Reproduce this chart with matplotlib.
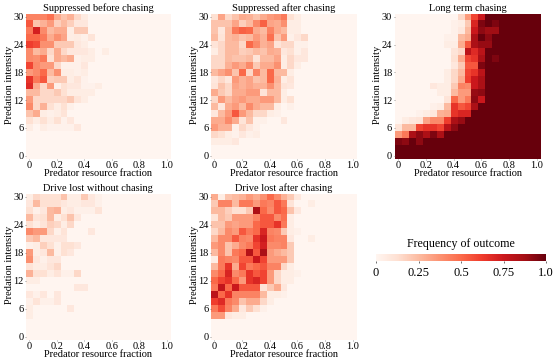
import numpy as np
import matplotlib.pyplot as plt
from matplotlib.cm import ScalarMappable
from matplotlib.colors import Normalize

plt.rcParams['font.family'] = ['Liberation Serif', 'DejaVu Serif']

# percent per cell, rows run top (30) to bottom (0), short rows are padded
before_rows = [
    [42, 42, 42, 48, 30, 22, 28, 15, 6],
    [55, 22, 28, 35, 18, 25, 18, 8, 8],
    [45, 72, 40, 25, 30, 30, 5, 20, 20],
    [50, 50, 45, 30, 38, 32, 5, 6, 3, 10],
    [62, 58, 38, 38, 20, 20, 20, 8, 5],
    [40, 25, 30, 15, 30, 15, 8, 8, 8, 5, 0, 5],
    [40, 38, 45, 12, 30, 25, 30, 3, 5, 5],
    [60, 40, 35, 35, 15, 3, 3, 3, 8],
    [35, 40, 50, 25, 38, 5, 5, 3, 5],
    [65, 45, 55, 18, 20, 20, 5, 10, 2],
    [68, 30, 15, 35, 3, 12, 8, 8, 2, 2, 5],
    [25, 25, 15, 15, 20, 12, 5, 5, 5, 5],
    [35, 15, 15, 15, 15, 15, 20, 10, 5],
    [40, 15, 28, 12, 5, 12, 3],
    [22, 30, 5, 3, 5, 10],
    [12, 5, 12, 5, 12, 2, 8],
    [5, 0, 5, 2, 2, 2, 2, 8],
]
after_rows = [
    [12, 32, 15, 22, 30, 28, 22, 30, 35, 38, 45, 12, 5],
    [22, 22, 22, 32, 18, 25, 40, 52, 32, 30, 38, 5, 5],
    [22, 8, 25, 45, 52, 50, 30, 25, 42, 30, 25, 5, 5],
    [25, 10, 25, 28, 22, 25, 35, 28, 48, 22, 35, 3, 8, 15],
    [10, 15, 25, 25, 15, 50, 40, 28, 32, 10, 15, 15, 3, 3],
    [5, 15, 25, 25, 18, 20, 25, 22, 30, 28, 8, 12, 3, 8],
    [15, 15, 25, 22, 22, 25, 10, 25, 25, 32, 5, 15, 8, 8],
    [15, 15, 28, 35, 30, 40, 20, 30, 30, 38, 5, 15, 5],
    [25, 32, 38, 22, 50, 15, 42, 25, 50, 25, 25, 5],
    [8, 15, 8, 35, 28, 32, 22, 25, 50, 28, 5, 10],
    [10, 22, 15, 32, 28, 32, 28, 28, 38, 25, 10, 8],
    [30, 20, 15, 30, 30, 35, 35, 10, 25, 25, 5],
    [15, 35, 25, 32, 35, 30, 30, 35, 35, 25, 5, 12],
    [25, 8, 30, 35, 25, 40, 30, 25, 25, 5, 0, 3],
    [8, 25, 35, 55, 35, 25, 15, 15, 5, 3],
    [30, 30, 40, 30, 10, 22, 3, 3, 0, 0, 8],
    [35, 28, 28, 3, 15, 8, 3],
    [15, 12, 5, 2, 8, 3, 5],
    [5, 5, 5, 8],
]
# long term chasing is saturated on the right, padded with 100
long_rows = [
    [0, 0, 0, 0, 0, 0, 0, 0, 0, 15, 35, 60, 75],
    [0, 0, 0, 0, 0, 0, 0, 0, 3, 5, 20, 70, 95, 100, 95],
    [0, 0, 0, 0, 0, 0, 0, 0, 3, 8, 25, 75, 92, 88, 88],
    [0, 0, 0, 0, 0, 0, 0, 3, 3, 25, 30, 85, 100, 92],
    [0, 0, 0, 0, 0, 0, 0, 5, 5, 30, 55, 85, 90, 90],
    [0, 0, 0, 0, 0, 0, 0, 0, 10, 15, 80, 68, 80],
    [0, 0, 0, 0, 0, 0, 0, 0, 12, 30, 60, 65, 85, 100, 95],
    [0, 0, 0, 0, 0, 0, 0, 0, 8, 20, 55, 55, 95],
    [0, 0, 0, 0, 0, 0, 0, 5, 15, 25, 60, 65, 80],
    [0, 0, 0, 0, 0, 0, 0, 5, 15, 30, 62, 75, 85],
    [0, 0, 0, 0, 0, 8, 5, 5, 20, 42, 40, 75, 85],
    [0, 0, 0, 0, 0, 0, 5, 5, 25, 35, 35, 90, 92],
    [0, 0, 0, 0, 0, 0, 0, 10, 50, 35, 45, 92, 75],
    [0, 0, 0, 0, 0, 3, 5, 25, 65, 55, 60, 85],
    [0, 0, 0, 2, 5, 8, 28, 30, 65, 70, 70],
    [0, 5, 8, 10, 32, 40, 40, 62, 85, 90],
    [10, 25, 25, 60, 65, 65, 60, 80, 92],
    [35, 45, 85, 92, 85, 95, 85],
    [95, 92, 100, 92],
]
lost_rows = [
    [5, 15, 12, 12, 12, 22, 5, 5, 20, 8, 3],
    [8, 25, 12, 12, 12, 8, 5, 5, 8, 8, 3],
    [12, 3, 8, 25, 28, 5, 8, 3, 3, 3, 10],
    [25, 10, 12, 25, 5, 12, 22, 8],
    [12, 5, 10, 18, 15, 5, 15],
    [40, 35, 35, 15, 3, 10, 0, 0, 0, 8],
    [20, 25, 8, 8, 8, 8],
    [3, 5, 18, 12, 3, 12, 12, 8],
    [35, 5, 8, 25, 3, 12, 8],
    [38, 8, 3, 8, 8],
    [10, 5, 5, 10, 15],
    [28, 12, 12, 5, 10, 3, 3, 15],
    [5, 5],
    [0, 0, 0, 0, 0, 0, 0, 8, 8],
    [8, 3, 8, 0, 8],
    [3, 10, 3, 3, 8],
    [5, 0, 0, 0, 0, 0, 8],
    [5],
]
lost_after_rows = [
    [30, 5, 22, 25, 28, 35, 30, 38, 50, 40, 28, 20, 8],
    [20, 42, 42, 25, 45, 45, 35, 45, 42, 55, 45, 10, 0, 0, 5],
    [25, 25, 18, 12, 12, 20, 85, 50, 40, 55, 50, 22, 8],
    [10, 25, 20, 35, 35, 35, 42, 55, 55, 40, 48, 5],
    [22, 22, 35, 32, 35, 35, 50, 55, 55, 65, 45, 5],
    [15, 25, 40, 35, 55, 45, 50, 70, 42, 40, 20, 5, 3],
    [25, 40, 40, 55, 42, 40, 65, 75, 45, 42, 42, 8, 0, 0, 5],
    [35, 40, 22, 30, 40, 45, 60, 72, 40, 40, 42, 20],
    [25, 40, 22, 45, 50, 82, 55, 85, 35, 30, 25, 20],
    [5, 45, 42, 40, 55, 55, 75, 60, 35, 35, 35, 20],
    [25, 45, 65, 30, 60, 45, 50, 55, 42, 42, 15, 5],
    [40, 50, 70, 40, 45, 65, 55, 60, 35, 15, 5, 5, 3],
    [50, 60, 65, 50, 35, 65, 70, 60, 35, 15, 5, 5],
    [45, 78, 50, 75, 55, 55, 55, 10, 20, 30, 8],
    [80, 50, 65, 42, 42, 42, 42, 25, 5, 5, 3],
    [62, 68, 45, 40, 22, 30, 30, 15, 5],
    [45, 58, 42, 30, 8, 20, 12, 3],
    [35, 35, 8, 5, 5],
]

titles = ['Suppressed before chasing', 'Suppressed after chasing', 'Long term chasing',
          'Drive lost without chasing', 'Drive lost after chasing']
x_ticks = [0, 0.2, 0.4, 0.6, 0.8, 1.0]
x_labels = ['0', '0.2', '0.4', '0.6', '0.8', '1.0']
y_ticks = [0, 6, 12, 18, 24, 30]
cbar_ticks = [0, 0.25, 0.5, 0.75, 1.0]
cbar_labels = ['0', '0.25', '0.5', '0.75', '1.0']


def to_grid(rows, fill=0):
    # pad the hand read rows out to the 21x21 grid
    grid = np.full((21, 21), float(fill))
    for i, row in enumerate(rows):
        grid[i, :len(row)] = row
    return grid / 100


W, H = 553, 361
fig = plt.figure(figsize=(W / 100, H / 100), dpi=100)


def px_axes(x0, y0, x1, y1):
    return fig.add_axes([x0 / W, 1 - y1 / H, (x1 - x0) / W, (y1 - y0) / H])


panels = [
    (before_rows, 0, (26, 13.5, 170.5, 159)),
    (after_rows, 0, (211, 13.5, 356, 159)),
    (long_rows, 100, (394.5, 13.5, 540.5, 159)),
    (lost_rows, 0, (26, 193.5, 170.5, 340)),
    (lost_after_rows, 0, (211, 193.5, 356, 340)),
]

for (rows, fill, box), title in zip(panels, titles):
    ax = px_axes(*box)
    ax.imshow(to_grid(rows, fill), cmap='Reds', vmin=0, vmax=1, aspect='auto',
              interpolation='nearest', extent=[-0.025, 1.025, -0.75, 30.75])
    for s in ax.spines.values():
        s.set_visible(False)
    ax.set_xticks(x_ticks)
    ax.set_xticklabels(x_labels)
    ax.set_yticks(y_ticks)
    ax.tick_params(labelsize=7.5, length=1, width=0.4, color='#555555')
    ax.tick_params(axis='x', pad=0.3)
    ax.tick_params(axis='y', pad=0.8)
    ax.set_title(title, fontsize=7.5, pad=1.5)
    ax.set_xlabel('Predator resource fraction', fontsize=7.5)
    ax.set_ylabel('Predation intensity', fontsize=7.5)
    ax.xaxis.set_label_coords(0.5, -0.07)
    ax.yaxis.set_label_coords(-0.083, 0.51)

# shared colour scale in the empty corner
cax = px_axes(376, 254, 546, 261)
cbar = fig.colorbar(ScalarMappable(Normalize(0, 1), cmap='Reds'), cax=cax, orientation='horizontal')
cbar.outline.set_visible(False)
cbar.set_ticks(cbar_ticks)
cbar.set_ticklabels(cbar_labels)
cbar.ax.tick_params(labelsize=9, length=1.5, width=0.4, pad=2.5)
cax.set_title('Frequency of outcome', fontsize=8.6, pad=5)

fig.savefig('out.png', dpi=100)
